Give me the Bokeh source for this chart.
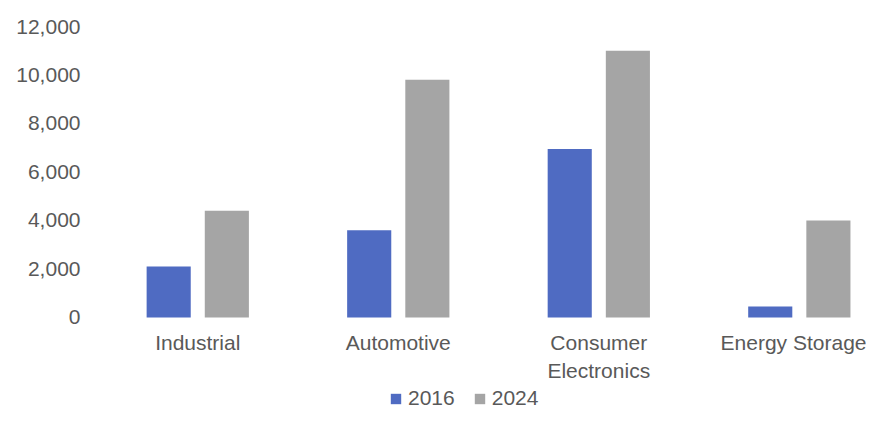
from bokeh.plotting import figure
from bokeh.models import (ColumnDataSource, Range1d, FixedTicker, NumeralTickFormatter,
                          Legend, LegendItem)
from bokeh.transform import dodge
from bokeh.embed import file_html
from bokeh.resources import INLINE

categories = ["Industrial", "Automotive", "Consumer\nElectronics", "Energy Storage"]
series_names = ["2016", "2024"]
values_2016 = [2100, 3600, 6950, 450]
values_2024 = [4400, 9800, 11000, 4000]
y_ticks = [0, 2000, 4000, 6000, 8000, 10000, 12000]

idx = list(range(len(categories)))
src = ColumnDataSource(dict(idx=idx, v2016=values_2016, v2024=values_2024))

FONT = "Liberation Sans"
TXT = "#595959"

# frame spans to the bottom of the figure; zero line sits 95px above it
p = figure(width=866, height=412, output_backend="svg", toolbar_location=None,
           x_range=Range1d(-0.495, 3.335), y_range=Range1d(-3918, 12000),
           min_border_left=98, min_border_right=0, min_border_top=26, min_border_bottom=0)
p.outline_line_color = None
p.xgrid.visible = False
p.ygrid.visible = False

r1 = p.vbar(x=dodge("idx", -0.145, range=p.x_range), top="v2016", width=0.22, source=src,
            fill_color="#4F6BC2", line_color=None)
r2 = p.vbar(x=dodge("idx", 0.145, range=p.x_range), top="v2024", width=0.22, source=src,
            fill_color="#A5A5A5", line_color=None)

p.xaxis.ticker = FixedTicker(ticks=idx)
p.xaxis.major_label_overrides = {i: c for i, c in zip(idx, categories)}
p.xaxis.fixed_location = 0
p.yaxis.ticker = FixedTicker(ticks=y_ticks)
p.yaxis.formatter = NumeralTickFormatter(format="0,0")
for ax in (p.xaxis[0], p.yaxis[0]):
    ax.axis_line_color = None
    ax.major_tick_line_color = None
    ax.minor_tick_line_color = None
    ax.major_label_text_font = FONT
    ax.major_label_text_font_size = "21px"
    ax.major_label_text_color = TXT
p.yaxis.major_label_standoff = 12
p.xaxis.major_label_standoff = 8

legend = Legend(items=[LegendItem(label=series_names[0], renderers=[r1]),
                       LegendItem(label=series_names[1], renderers=[r2])],
                orientation="horizontal", location=(291, 2),
                label_text_font=FONT, label_text_font_size="21px", label_text_color=TXT,
                glyph_width=13, glyph_height=13, label_standoff=6, spacing=18,
                padding=0, margin=0, border_line_color=None, background_fill_alpha=0)
p.add_layout(legend, "center")

open("out.html", "w").write(file_html(p, INLINE))
